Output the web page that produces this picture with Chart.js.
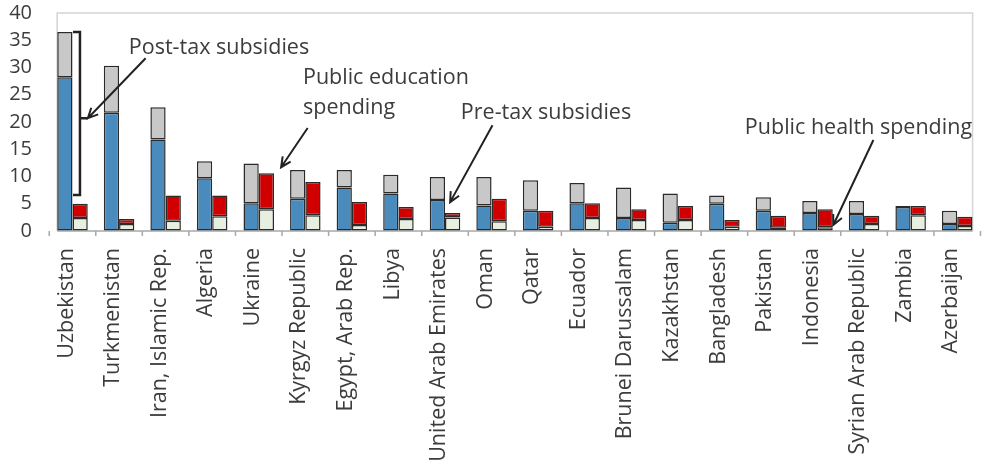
<!DOCTYPE html>
<html>
<head>
<meta charset="utf-8">
<script src="https://cdn.jsdelivr.net/npm/chart.js@4.4.1/dist/chart.umd.min.js"></script>
<style>
  html, body { margin: 0; padding: 0; background: #fff; }
  #wrap { width: 992px; height: 461px; }
</style>
</head>
<body>
<div id="wrap"><canvas id="chart"></canvas></div>
<script>
// countries, sorted by post-tax subsidies
const countries = ['Uzbekistan', 'Turkmenistan', 'Iran, Islamic Rep.', 'Algeria', 'Ukraine',
  'Kyrgyz Republic', 'Egypt, Arab Rep.', 'Libya', 'United Arab Emirates', 'Oman', 'Qatar',
  'Ecuador', 'Brunei Darussalam', 'Kazakhstan', 'Bangladesh', 'Pakistan', 'Indonesia',
  'Syrian Arab Republic', 'Zambia', 'Azerbaijan'];

// energy subsidies (% of GDP)
const preTax = [28.2, 21.7, 16.8, 9.7, 5.1, 5.9, 8.0, 6.9, 5.7, 4.7, 3.7, 5.1, 2.4, 1.5, 5.0, 3.7, 3.3, 3.1, 4.4, 1.3];
const postTax = [36.5, 30.3, 22.7, 12.8, 12.4, 11.2, 11.2, 10.3, 9.9, 9.9, 9.3, 8.8, 8.0, 6.9, 6.5, 6.2, 5.5, 5.5, 4.6, 3.7];

// public spending (% of GDP)
const healthSpending = [2.4, 1.3, 1.9, 2.7, 4.0, 2.9, 1.1, 2.2, 2.5, 1.8, 0.8, 2.4, 2.0, 2.0, 0.8, 0.6, 0.7, 1.3, 2.9, 0.9];
const educationSpending = [2.6, 0.9, 4.6, 3.8, 6.6, 6.1, 4.2, 2.2, 0.8, 4.1, 2.9, 2.7, 2.0, 2.6, 1.2, 2.2, 3.3, 1.5, 1.7, 1.7];

const yTicks = [0, 5, 10, 15, 20, 25, 30, 35, 40];

// post-tax part on top of the pre-tax bar
const postTaxExtra = postTax.map((v, i) => +(v - preTax[i]).toFixed(2));

const FONT = '"Open Sans", "Noto Sans", sans-serif';
const TEXT = '#3c3c3c';
const EDGE = '#2a2a2a';
const HALF = 0.33; // half a bar pair, in category units

// annotation labels and arrows (x = category index, y = value)
const notes = [
  { lines: ['Post-tax subsidies'], x: 1.21, y: 33.6 },
  { lines: ['Public education', 'spending'], x: 4.95, y: 28.1 },
  { lines: ['Pre-tax subsidies'], x: 8.34, y: 21.7 },
  { lines: ['Public health spending'], x: 14.44, y: 18.9 }
];
const arrows = [
  { from: [1.57, 31.7], to: [0.33, 20.7] },
  { from: [5.05, 18.9], to: [4.48, 11.7] },
  { from: [9.02, 19.4], to: [8.11, 5.3] },
  { from: [17.20, 16.7], to: [16.34, 1.1] }
];

const annotationPlugin = {
  id: 'notes',
  beforeDatasetsDraw(chart) {
    const { ctx, chartArea: a } = chart;
    const xs = chart.scales.x;
    const left = xs.getPixelForValue(-HALF), right = xs.getPixelForValue(countries.length - 1 + HALF);
    ctx.save();
    ctx.strokeStyle = '#d4d4d4';
    ctx.lineWidth = 1.5;
    ctx.beginPath();
    ctx.moveTo(left, a.bottom);
    ctx.lineTo(left, a.top);
    ctx.lineTo(right, a.top);
    ctx.lineTo(right, a.bottom);
    ctx.stroke();
    // x axis line with tick marks between pairs
    ctx.strokeStyle = '#a8a8a8';
    ctx.beginPath();
    ctx.moveTo(left, a.bottom);
    ctx.lineTo(right, a.bottom);
    for (let i = 0; i <= countries.length; i++) {
      const x = xs.getPixelForValue(i - 0.5);
      ctx.moveTo(x, a.bottom);
      ctx.lineTo(x, a.bottom + 5);
    }
    ctx.stroke();
    ctx.restore();
  },
  afterDatasetsDraw(chart) {
    const { ctx } = chart;
    const xs = chart.scales.x, ys = chart.scales.y;
    const px = v => xs.getPixelForValue(v);
    const py = v => ys.getPixelForValue(v);
    ctx.save();
    ctx.fillStyle = TEXT;
    ctx.font = '21.5px ' + FONT;
    ctx.textBaseline = 'middle';
    notes.forEach(n => {
      n.lines.forEach((t, k) => ctx.fillText(t, px(n.x), py(n.y) + k * 30));
    });

    ctx.strokeStyle = '#222';
    ctx.lineWidth = 2;
    arrows.forEach(ar => {
      const x1 = px(ar.from[0]), y1 = py(ar.from[1]);
      const x2 = px(ar.to[0]), y2 = py(ar.to[1]);
      ctx.beginPath();
      ctx.moveTo(x1, y1);
      ctx.lineTo(x2, y2);
      const ang = Math.atan2(y2 - y1, x2 - x1);
      ctx.moveTo(x2 - 11 * Math.cos(ang - 0.45), y2 - 11 * Math.sin(ang - 0.45));
      ctx.lineTo(x2, y2);
      ctx.lineTo(x2 - 11 * Math.cos(ang + 0.45), y2 - 11 * Math.sin(ang + 0.45));
      ctx.stroke();
    });

    // bracket on the first bar
    const bx0 = px(0.01), bx1 = px(0.16), bx2 = px(0.33);
    const top = py(postTax[0]), bot = py(6.6), mid = py(20.7);
    ctx.lineWidth = 2.5;
    ctx.beginPath();
    ctx.moveTo(bx0, top);
    ctx.lineTo(bx1, top);
    ctx.lineTo(bx1, bot);
    ctx.lineTo(bx0, bot);
    ctx.moveTo(bx1, mid);
    ctx.lineTo(bx2, mid);
    ctx.stroke();
    ctx.restore();
  }
};

const seg = (label, data, color, stack) => ({
  label, data, stack,
  backgroundColor: color,
  borderColor: EDGE,
  borderWidth: 1.5,
  borderSkipped: false,
  categoryPercentage: 0.655,
  barPercentage: 1.0,
  clip: false
});

new Chart(document.getElementById('chart'), {
  type: 'bar',
  data: {
    labels: countries,
    datasets: [
      seg('Pre-tax subsidies', preTax, '#4a8bbd', 'subsidy'),
      seg('Post-tax subsidies', postTaxExtra, '#c8c8c8', 'subsidy'),
      seg('Public health spending', healthSpending, '#e7efe0', 'spending'),
      seg('Public education spending', educationSpending, '#d00000', 'spending')
    ]
  },
  options: {
    responsive: true,
    maintainAspectRatio: false,
    animation: false,
    layout: { padding: { top: 0, right: 19, left: 0, bottom: 0 } },
    plugins: {
      legend: { display: false },
      tooltip: { enabled: false }
    },
    scales: {
      x: {
        stacked: true,
        offset: false,
        grid: { display: false },
        border: { display: false },
        ticks: {
          autoSkip: false,
          minRotation: 90,
          maxRotation: 90,
          labelOffset: -6,
          padding: 9,
          color: TEXT,
          font: { family: FONT, size: 21.5 }
        },
        afterFit(scale) { scale.height = 230; }
      },
      y: {
        stacked: true,
        min: 0,
        max: 40,
        afterBuildTicks(scale) { scale.ticks = yTicks.map(v => ({ value: v })); },
        grid: { display: true, drawOnChartArea: false, drawTicks: true, tickLength: 39.5, color: 'rgba(0,0,0,0)' },
        border: { display: false },
        ticks: {
          autoSkip: false,
          padding: 1,
          color: TEXT,
          font: { family: FONT, size: 20 }
        },
        afterFit(scale) { scale.width = 72.5; }
      }
    }
  },
  plugins: [annotationPlugin]
});
</script>
</body>
</html>
